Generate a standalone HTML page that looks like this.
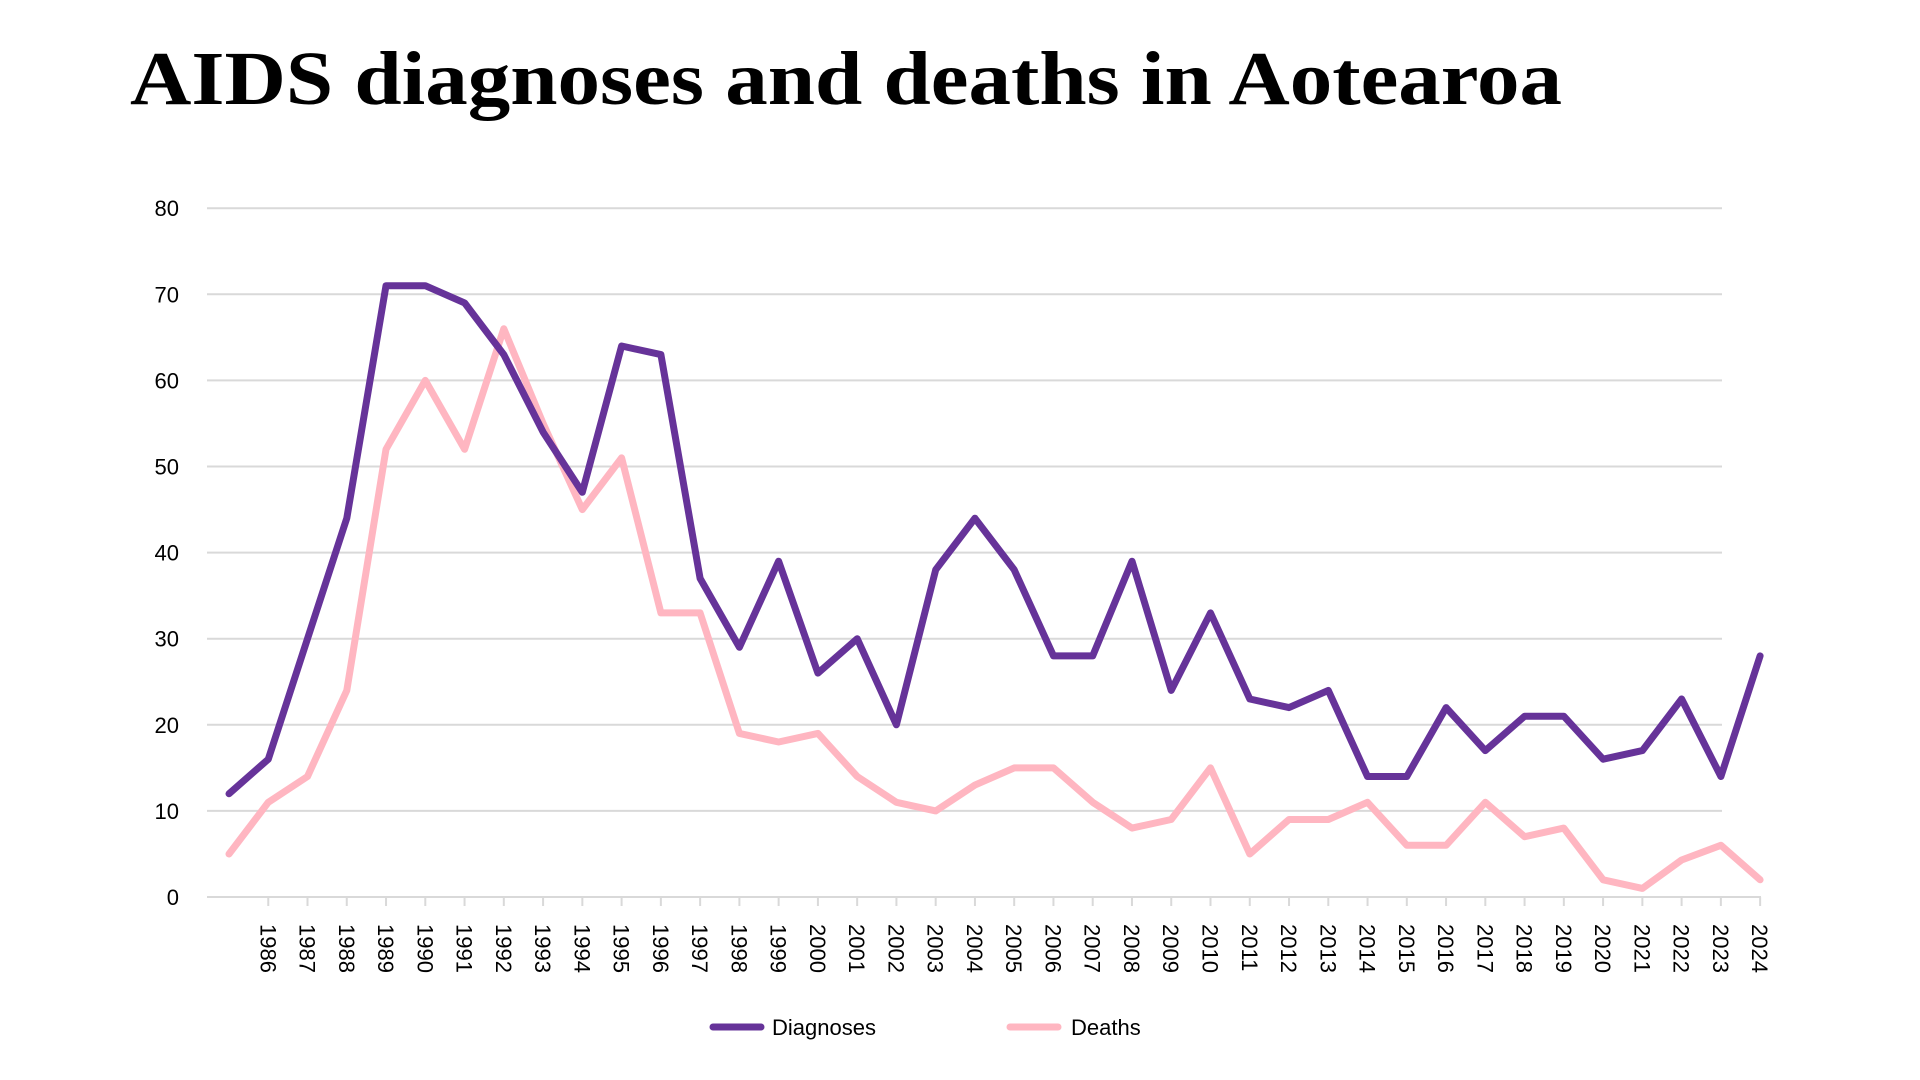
<!DOCTYPE html>
<html><head><meta charset="utf-8"><style>
html,body{margin:0;padding:0;background:#fff;width:1920px;height:1080px;overflow:hidden}
svg{display:block}
</style></head><body>
<svg id="s" width="1920" height="1080" xmlns="http://www.w3.org/2000/svg">
<text x="130" y="104" font-family="Liberation Serif, serif" font-weight="bold" font-size="76" textLength="1432" lengthAdjust="spacingAndGlyphs" fill="#000">AIDS diagnoses and deaths in Aotearoa</text>
<g id="g"></g>
</svg>
<script>
var g=document.getElementById('g'),h='';
var y0=897,k=8.61,x0=229,dx=39.26;
function X(i){return x0+dx*i}function Y(v){return y0-k*v}
for(var v=10;v<=80;v+=10){h+='<line x1="207" x2="1722" y1="'+Y(v)+'" y2="'+Y(v)+'" stroke="#d9d9d9" stroke-width="2"/>';}
for(var v=0;v<=80;v+=10){h+='<text x="179" y="'+(Y(v)+8)+'" text-anchor="end" font-family="Liberation Sans, sans-serif" font-size="22" fill="#000">'+v+'</text>';}
h+='<line x1="207" x2="1761" y1="'+y0+'" y2="'+y0+'" stroke="#d9d9d9" stroke-width="2"/>';
for(var i=1;i<40;i++){var x=X(i);h+='<line x1="'+x+'" x2="'+x+'" y1="'+y0+'" y2="'+(y0+9)+'" stroke="#d9d9d9" stroke-width="2"/>';
h+='<text transform="translate('+(x-8)+',924) rotate(90)" font-family="Liberation Sans, sans-serif" font-size="22" fill="#000">'+(1985+i)+'</text>';}
var d=[12,16,30,44,71,71,69,63,54,47,64,63,37,29,39,26,30,20,38,44,38,28,28,39,24,33,23,22,24,14,14,22,17,21,21,16,17,23,14,28];
var e=[5,11,14,24,52,60,52,66,55,45,51,33,33,19,18,19,14,11,10,13,15,15,11,8,9,15,5,9,9,11,6,6,11,7,8,2,1,4.3,6,2];
function p(a,c){return '<polyline fill="none" stroke="'+c+'" stroke-width="7" stroke-linejoin="round" stroke-linecap="round" points="'+a.map(function(v,i){return X(i).toFixed(1)+','+Y(v).toFixed(1)}).join(' ')+'"/>';}
h+=p(e,'#ffb6c1')+p(d,'#663399');
h+='<line x1="714" x2="762" y1="1038" y2="1038" stroke="#663399" stroke-width="7" stroke-linecap="round"/><text x="782" y="1046" font-family="Liberation Sans, sans-serif" font-size="22">Diagnoses</text>';
h+='<line x1="1011" x2="1059" y1="1038" y2="1038" stroke="#ffb6c1" stroke-width="7" stroke-linecap="round"/><text x="1080" y="1046" font-family="Liberation Sans, sans-serif" font-size="22">Deaths</text>';
g.innerHTML=h.replace(/y1="1038" y2="1038"/g,'y1="1027" y2="1027"').replace(/y="1046"/g,'y="1035"').replace(/x1="714" x2="762"/,'x1="713" x2="761"').replace(/x="782"/,'x="772"').replace(/x1="1011" x2="1059"/,'x1="1010" x2="1058"').replace(/x="1080"/,'x="1071"');
</script>
</body></html>
